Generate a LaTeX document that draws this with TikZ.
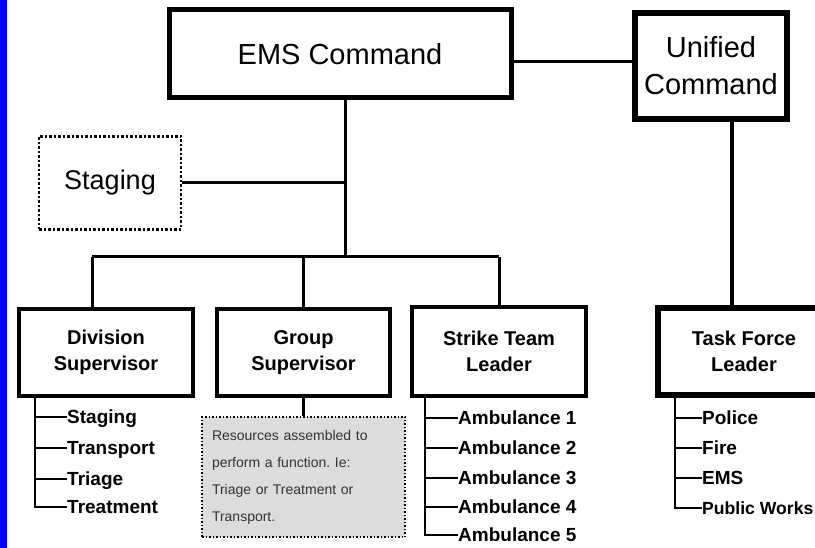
\documentclass[tikz,border=0pt]{standalone}
\usepackage{fontspec}
\setmainfont{Liberation Sans}
\definecolor{notegray}{HTML}{DCDCDC}
\definecolor{notetext}{HTML}{333333}
\frenchspacing
\begin{document}
\begin{tikzpicture}[x=1pt,y=-1pt,
  box/.style={draw, rectangle, inner sep=0pt, align=center},
  topbox/.style={box, line width=5pt, font=\fontsize{29}{37}\selectfont},
  subbox/.style={box, line width=3.5pt, font=\bfseries\fontsize{20}{26}\selectfont},
  item/.style={anchor=west, inner sep=0pt, font=\bfseries\fontsize{19}{22}\selectfont, text height=13.5pt, text depth=0pt},
  conn/.style={line width=3pt},
  leaf/.style={line width=2.5pt},
]
\useasboundingbox (0,0) rectangle (815,548);
\clip (0,0) rectangle (815,548);
\fill[blue] (0,0) rectangle (7,548);

% main boxes
\node[topbox, minimum width=342pt, minimum height=88pt] (ems) at (340,54) {EMS Command};
\node[topbox, line width=5.5pt, minimum width=152pt, minimum height=106pt] (uni) at (711,66) {Unified\\Command};
\node[box, dotted, line width=2.5pt, minimum width=142pt, minimum height=93pt, font=\fontsize{27}{32}\selectfont] (stag) at (110,183) {Staging};

\node[subbox, minimum width=174pt, minimum height=87pt] (div) at (106,352.5) {Division\\Supervisor};
\node[subbox, minimum width=173pt, minimum height=87pt] (grp) at (303.5,352.5) {Group\\Supervisor};
\node[subbox, minimum width=174pt, minimum height=89pt] (str) at (499,351.5) {Strike Team\\Leader};
\node[subbox, line width=6.5pt, minimum width=172pt, minimum height=87pt] (task) at (744,351.5) {Task Force\\Leader};

\node[draw, dotted, line width=1.5pt, fill=notegray, minimum width=203pt, minimum height=120pt, inner sep=0pt] (note) at (303.5,477) {};
\node[text width=183pt, align=left, inner sep=0pt, text=notetext, font=\fontsize{14}{27}\selectfont] (notetxt) at (note.center)
  {Resources assembled to\\perform a function. Ie:\\Triage or Treatment or\\Transport.};

% helper coordinates
\coordinate (bus) at (345,257);
\coordinate (dtop) at (92,257);
\coordinate (uc) at (732,0);
\coordinate (dv) at (35,0);
\coordinate (sv) at (425,0);
\coordinate (tv) at (675,0);

% main connectors
\draw[conn] ([yshift=-8pt]ems.east) -- ([yshift=-8pt]ems.east -| uni.west);
\draw[conn] (ems.south -| bus) -- (bus);
\draw[conn] (stag.east) -- (stag.east -| bus);
\draw[conn] (dtop) -- (bus -| str.north);
\draw[conn] (dtop) -- (dtop |- div.north);
\draw[conn] (grp.north) -- (grp.north |- bus);
\draw[conn] (str.north) -- (str.north |- bus);
\draw[line width=4pt] (uni.south -| uc) -- (task.north -| uc);
\draw[conn] (grp.south) -- (grp.south |- note.north);

% division items
\node[item] (d1) at (67,417) {Staging};
\node[item] (d2) at (67,448) {Transport};
\node[item] (d3) at (67,479) {Triage};
\node[item] (d4) at (67,507) {Treatment};
\draw[leaf] (div.south -| dv) |- (d4.west);
\foreach \n in {d1,d2,d3} \draw[leaf] (\n.west -| dv) -- (\n.west);

% strike team items
\node[item] (s1) at (458,418) {Ambulance 1};
\node[item] (s2) at (458,448) {Ambulance 2};
\node[item] (s3) at (458,478) {Ambulance 3};
\node[item] (s4) at (458,507) {Ambulance 4};
\node[item] (s5) at (458,535) {Ambulance 5};
\draw[leaf] (str.south -| sv) |- (s5.west);
\foreach \n in {s1,s2,s3,s4} \draw[leaf] (\n.west -| sv) -- (\n.west);

% task force items
\node[item] (t1) at (702,418) {Police};
\node[item] (t2) at (702,448) {Fire};
\node[item] (t3) at (702,478) {EMS};
\node[item, font=\bfseries\fontsize{17.6}{22}\selectfont] (t4) at (702,508) {Public Works};
\draw[leaf] (task.south -| tv) |- (t4.west);
\foreach \n in {t1,t2,t3} \draw[leaf] (\n.west -| tv) -- (\n.west);
\end{tikzpicture}
\end{document}
